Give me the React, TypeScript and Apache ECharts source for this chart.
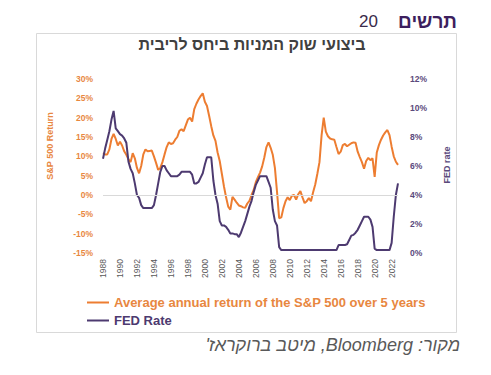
import React, { useEffect, useRef } from "react";
import * as echarts from "echarts";

const START_YEAR = 1988;

// Quarterly values, 1988 Q1 .. 2022 Q4
const sp500Return5y: number[] = [
  10.8, 10.5, 10.5, 11.8, 14.5, 15.8, 14.5, 12.8,
  13.8, 12.8, 11.3, 10.4, 9.2, 8.5, 10.8, 9.5,
  7.0, 5.6, 7.5, 10.5, 11.8, 11.3, 11.4, 11.5,
  10.0, 8.3, 6.5, 7.0, 8.5, 10.5, 12.4, 13.6,
  13.2, 13.4, 14.3, 15.0, 16.6, 17.0, 16.5, 18.0,
  19.5, 20.0, 19.0, 22.2, 23.6, 24.7, 25.6, 26.3,
  24.1, 23.0, 20.5, 17.8, 15.4, 14.0, 11.0, 8.8,
  5.5, 2.2, -0.6, -3.0, -3.8, -0.5, -1.2, -2.0,
  -2.7, -2.9, -3.2, -3.3, -2.2, -1.5, 0.0, 1.3,
  3.3, 4.6, 5.8, 7.4, 9.7, 12.4, 13.6, 12.2,
  10.4, 7.0, 0.8, -6.0, -5.8, -3.4, -1.6, -0.6,
  -1.3, -0.2, 0.0, -1.2, 0.2, 1.0, -0.6, -2.1,
  -1.6, -0.8, -1.6, 0.7, 2.7, 5.5, 8.5, 15.5,
  20.0, 16.4, 15.2, 14.6, 14.4, 14.3, 12.4, 10.6,
  11.2, 12.9, 13.2, 12.6, 13.0, 13.4, 13.6, 13.5,
  11.2, 9.8, 8.5, 6.8, 8.8, 9.6, 9.0, 9.5,
  4.7, 11.0, 12.9, 14.3, 15.4, 16.2, 16.8, 15.5,
  12.5, 10.0, 8.6, 7.8,
];

const fedRate: number[] = [
  6.5, 7.2, 7.8, 8.4, // 1988
  9.2, 9.8, 8.6, 8.4, // 1989
  8.2, 8.1, 7.9, 7.6, // 1990
  6.3, 5.8, 5.5, 4.8, // 1991
  4.0, 3.8, 3.3, 3.1, // 1992
  3.1, 3.1, 3.1, 3.1, // 1993
  3.3, 4.0, 4.8, 5.6, // 1994
  6.0, 6.0, 5.7, 5.5, // 1995
  5.3, 5.3, 5.3, 5.3, // 1996
  5.4, 5.6, 5.6, 5.6, // 1997
  5.6, 5.6, 5.4, 4.8, // 1998
  4.8, 4.9, 5.2, 5.5, // 1999
  6.1, 6.6, 6.6, 6.6, // 2000
  5.0, 4.0, 3.4, 2.2, // 2001
  1.9, 1.9, 1.8, 1.6, // 2002
  1.35, 1.35, 1.3, 1.3, // 2003
  1.1, 1.4, 1.8, 2.2, // 2004
  2.7, 3.2, 3.6, 4.2, // 2005
  4.7, 5.0, 5.3, 5.3, // 2006
  5.3, 5.3, 4.9, 4.5, // 2007
  3.0, 2.2, 1.9, 0.4, // 2008
  0.2, 0.2, 0.2, 0.2, // 2009
  0.2, 0.2, 0.2, 0.2, // 2010
  0.2, 0.2, 0.2, 0.2, // 2011
  0.2, 0.2, 0.2, 0.2, // 2012
  0.2, 0.2, 0.2, 0.2, // 2013
  0.2, 0.2, 0.2, 0.2, // 2014
  0.2, 0.2, 0.2, 0.55, // 2015
  0.55, 0.55, 0.55, 0.6, // 2016
  0.9, 1.2, 1.25, 1.4, // 2017
  1.6, 1.9, 2.2, 2.5, // 2018
  2.5, 2.5, 2.3, 1.8, // 2019
  0.3, 0.2, 0.2, 0.2, // 2020
  0.2, 0.2, 0.2, 0.2, // 2021
  0.7, 2.5, 4.0, 4.8, // 2022
];

const quarters: string[] = fedRate.map(
  (_, i) => `${START_YEAR + Math.floor(i / 4)} Q${(i % 4) + 1}`
);

const leftTicks = { min: -15, max: 30, interval: 5 };
const rightTicks = { min: 0, max: 12, interval: 2 };

const SP_NAME = "Average annual return of the S&P 500 over 5 years";
const FED_NAME = "FED Rate";
const TITLE = "ביצועי שוק המניות ביחס לריבית";
const HEADER_WORD = "תרשים";
const HEADER_NUM = "20";
const SOURCE = "\u202Bמקור: Bloomberg, מיטב ברוקראז'\u202C";
const LEFT_NAME = "S&P 500 Return";
const RIGHT_NAME = "FED rate";

const ORANGE = "#ED7D31";
const ORANGE_TEXT = "#E8873F";
const PURPLE = "#4D3A70";
const PURPLE_TEXT = "#5B4A7C";
const FONT = "'Liberation Sans', Arial, sans-serif";

export default function App() {
  const ref = useRef<HTMLDivElement>(null);

  useEffect(() => {
    if (!ref.current) return;
    const chart = echarts.init(ref.current, undefined, { renderer: "svg" });
    chart.setOption({
      animation: false,
      backgroundColor: "#ffffff",
      textStyle: { fontFamily: FONT },
      grid: { left: 103, right: 93, top: 79, bottom: 122 },
      legend: {
        orient: "vertical",
        left: 87,
        top: 296,
        padding: 0,
        itemGap: 5,
        itemWidth: 22,
        itemHeight: 2,
        icon: "rect",
        textStyle: { fontFamily: FONT, fontSize: 13, fontWeight: "bold" },
        data: [
          { name: SP_NAME, textStyle: { color: ORANGE_TEXT } },
          { name: FED_NAME, textStyle: { color: PURPLE } },
        ],
      },
      xAxis: {
        type: "category",
        data: quarters,
        boundaryGap: false,
        axisLine: { show: false },
        axisTick: { show: false },
        splitLine: { show: false },
        axisLabel: {
          interval: 7,
          rotate: 90,
          margin: 6,
          fontSize: 8.5,
          color: "#595959",
          fontFamily: FONT,
          formatter: (v: string) => v.split(" ")[0],
        },
      },
      yAxis: [
        {
          type: "value",
          ...leftTicks,
          axisLine: { show: false },
          axisTick: { show: false },
          splitLine: { show: false },
          axisLabel: {
            margin: 10,
            fontSize: 8.5,
            fontWeight: "bold",
            color: ORANGE_TEXT,
            fontFamily: FONT,
            formatter: (v: number) => `${v}%`,
          },
        },
        {
          type: "value",
          ...rightTicks,
          axisLine: { show: false },
          axisTick: { show: false },
          splitLine: { show: false },
          axisLabel: {
            margin: 12,
            fontSize: 8.5,
            fontWeight: "bold",
            color: PURPLE_TEXT,
            fontFamily: FONT,
            formatter: (v: number) => `${v}%`,
          },
        },
      ],
      series: [
        {
          name: SP_NAME,
          type: "line",
          yAxisIndex: 0,
          data: sp500Return5y,
          showSymbol: false,
          symbol: "none",
          lineStyle: { color: ORANGE, width: 2 },
          itemStyle: { color: ORANGE },
          z: 3,
          markLine: {
            silent: true,
            symbol: "none",
            label: { show: false },
            lineStyle: { color: "#d9d9d9", width: 1, type: "solid" },
            data: [{ yAxis: 0 }],
          },
        },
        {
          name: FED_NAME,
          type: "line",
          yAxisIndex: 1,
          data: fedRate,
          showSymbol: false,
          symbol: "none",
          lineStyle: { color: PURPLE, width: 2 },
          itemStyle: { color: PURPLE },
          z: 4,
        },
      ],
      graphic: [
        {
          type: "rect",
          z: -1,
          shape: { x: 36.5, y: 33.5, width: 420, height: 299 },
          style: { fill: "none", stroke: "#d9d9d9", lineWidth: 1 },
        },
        {
          type: "text",
          x: 252,
          y: 44,
          style: {
            text: TITLE,
            fill: "#404040",
            fontFamily: FONT,
            fontSize: 16,
            fontWeight: "bold",
            textAlign: "center",
            textVerticalAlign: "middle",
          },
        },
        {
          type: "text",
          x: 457,
          y: 21,
          style: {
            text: HEADER_WORD,
            fill: "#3D1F5E",
            fontFamily: FONT,
            fontSize: 19,
            fontWeight: "bold",
            textAlign: "right",
            textVerticalAlign: "middle",
          },
        },
        {
          type: "text",
          x: 378,
          y: 21,
          style: {
            text: HEADER_NUM,
            fill: "#3A2A4A",
            fontFamily: FONT,
            fontSize: 17,
            textAlign: "right",
            textVerticalAlign: "middle",
          },
        },
        {
          type: "text",
          x: 460,
          y: 345,
          style: {
            text: SOURCE,
            fill: "#595959",
            fontFamily: FONT,
            fontSize: 18,
            fontStyle: "italic",
            textAlign: "right",
            textVerticalAlign: "middle",
          },
        },
        {
          type: "text",
          x: 50,
          y: 146,
          rotation: Math.PI / 2,
          style: {
            text: LEFT_NAME,
            fill: ORANGE_TEXT,
            fontFamily: FONT,
            fontSize: 9,
            fontWeight: "bold",
            textAlign: "center",
            textVerticalAlign: "middle",
          },
        },
        {
          type: "text",
          x: 447,
          y: 165,
          rotation: Math.PI / 2,
          style: {
            text: RIGHT_NAME,
            fill: PURPLE_TEXT,
            fontFamily: FONT,
            fontSize: 9,
            fontWeight: "bold",
            textAlign: "center",
            textVerticalAlign: "middle",
          },
        },
      ],
    });
    return () => chart.dispose();
  }, []);

  return (
    <div
      ref={ref}
      style={{ position: "fixed", left: 0, top: 0, width: 491, height: 375, background: "#fff" }}
    />
  );
}
